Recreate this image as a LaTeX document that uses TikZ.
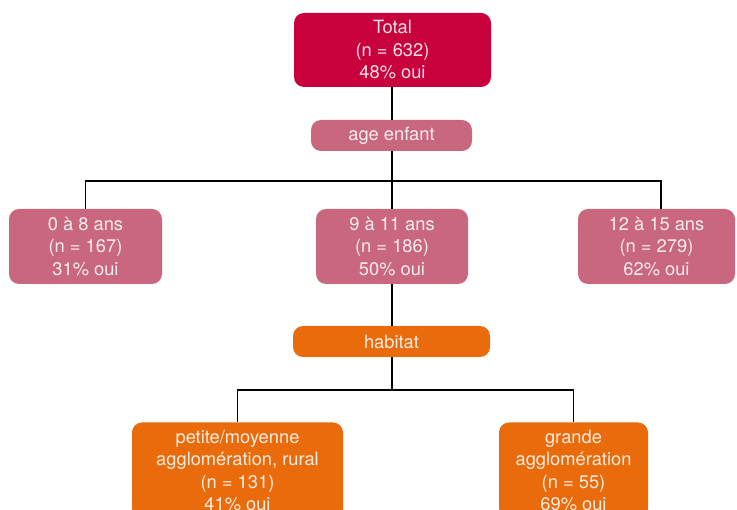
\documentclass[tikz,border=0pt]{standalone}
\usepackage{fontspec}
\setmainfont{TeX Gyre Heros}
\definecolor{crim}{HTML}{C8003C}
\definecolor{rose}{HTML}{C9677F}
\definecolor{orng}{HTML}{E96B0C}
\begin{document}
\begin{tikzpicture}[x=1pt,y=-1pt,
  box/.style={rounded corners=10pt, draw=none, text=white, text opacity=0.88,
    align=center, inner sep=0pt, font=\fontsize{18.3}{22.5}\selectfont},
  conn/.style={draw=black, line width=1.3pt}]
\useasboundingbox (0,0) rectangle (737,510);
\clip (0,0) rectangle (737,510);
\node[box, fill=crim, minimum width=197pt, minimum height=74pt] (total) at (392.5,50) {Total\\(n = 632)\\48\% oui};
\node[box, fill=rose, minimum width=161pt, minimum height=31pt] (age) at (391.5,135.5) {age enfant};
\node[box, fill=rose, minimum width=153pt, minimum height=75pt] (n1) at (85.5,246.5) {0 à 8 ans\\(n = 167)\\31\% oui};
\node[box, fill=rose, minimum width=152pt, minimum height=75pt] (n2) at (392,246.5) {9 à 11 ans\\(n = 186)\\50\% oui};
\node[box, fill=rose, minimum width=157pt, minimum height=75pt] (n3) at (656.5,246.5) {12 à 15 ans\\(n = 279)\\62\% oui};
\node[box, fill=orng, minimum width=197pt, minimum height=31pt] (hab) at (391.5,341.5) {habitat};
\node[box, fill=orng, minimum width=211pt, minimum height=96pt] (b1) at (237.5,470.5) {petite/moyenne\\agglomération, rural\\(n = 131)\\41\% oui};
\node[box, fill=orng, minimum width=149pt, minimum height=96pt] (b2) at (573.5,470.5) {grande\\agglomération\\(n = 55)\\69\% oui};
\coordinate (j1) at (392,181);
\coordinate (j2) at (392,390);
\draw[conn] (total.south -| j1) -- (age.north -| j1);
\draw[conn] (age.south -| j1) -- (j1);
\draw[conn] (j1) -| (n1.north);
\draw[conn] (j1) -- (n2.north -| j1);
\draw[conn] (j1) -| ([xshift=4.5pt]n3.north);
\draw[conn] (n2.south -| j1) -- (hab.north -| j1);
\draw[conn] (hab.south -| j1) -- (j2);
\draw[conn] (j2) -| (b1.north);
\draw[conn] (j2) -| (b2.north);
\end{tikzpicture}
\end{document}
